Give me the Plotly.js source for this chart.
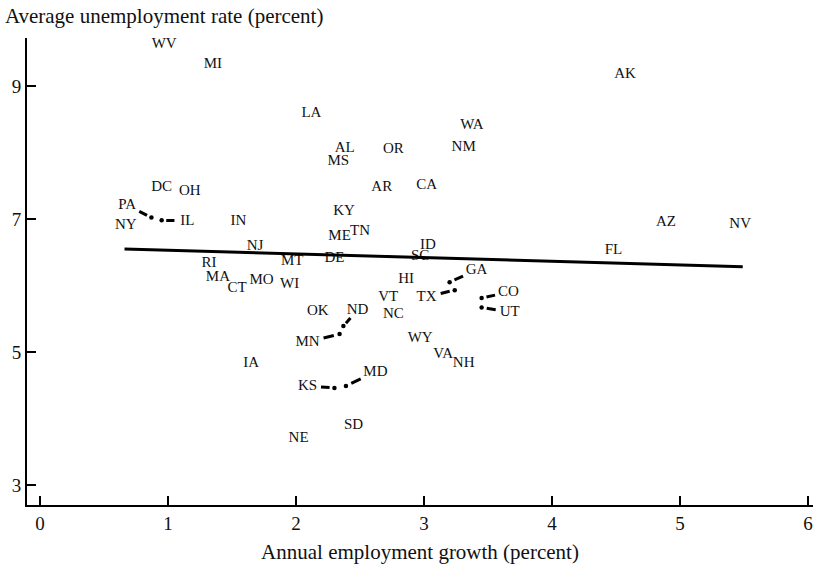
<!DOCTYPE html>
<html>
<head>
<meta charset="utf-8">
<script src="https://cdn.plot.ly/plotly-3.0.1.min.js"></script>
<style>html,body{margin:0;padding:0;background:#fff;}</style>
</head>
<body>
<div id="chart" style="width:813px;height:570px;"></div>
<script>
// State labels and their positions (employment growth %, unemployment rate %)
const states = ["WV","MI","LA","AK","WA","NM","AL","MS","OR","AR","CA","DC","OH","PA","NY","IL","IN","KY","ME","TN","NJ","ID","SC","MT","DE","FL","AZ","NV","RI","MA","CT","MO","WI","HI","GA","TX","CO","UT","VT","NC","OK","ND","MN","WY","VA","NH","IA","KS","MD","SD","NE"];
const growth = [0.97,1.35,2.12,4.57,3.375,3.31,2.38,2.33,2.76,2.67,3.02,0.95,1.17,0.68,0.67,1.15,1.55,2.375,2.34,2.5,1.68,3.03,2.97,1.97,2.30,4.48,4.89,5.47,1.32,1.39,1.54,1.73,1.95,2.86,3.41,3.02,3.66,3.67,2.72,2.76,2.17,2.48,2.09,2.97,3.15,3.31,1.65,2.09,2.62,2.45,2.02];
const unemp = [9.62,9.33,8.59,9.17,8.41,8.08,8.07,7.86,8.05,7.47,7.50,7.47,7.42,7.21,6.91,6.97,6.97,7.12,6.74,6.82,6.59,6.61,6.44,6.37,6.41,6.53,6.95,6.92,6.34,6.13,5.96,6.08,6.02,6.10,6.23,5.83,5.90,5.60,5.83,5.57,5.62,5.63,5.15,5.21,4.97,4.83,4.83,4.49,4.70,3.90,3.71];

// Labels displaced from their points: actual point positions
const ledStates = ["PA","IL","GA","TX","CO","UT","MN","ND","KS","MD"];
const ledGrowth = [0.87,0.95,3.20,3.24,3.45,3.45,2.34,2.37,2.30,2.39];
const ledUnemp  = [7.02,6.98,6.05,5.93,5.81,5.67,5.27,5.39,4.46,4.49];

// Fitted regression line endpoints
const fitGrowth = [0.66,5.49];
const fitUnemp  = [6.55,6.28];

const FONT = "Liberation Serif, Times New Roman, serif";
const traces = [];

traces.push({
  x: growth, y: unemp, text: states, mode: "text", type: "scatter",
  textposition: "middle center",
  textfont: {family: FONT, size: 15, color: "#111"},
  hoverinfo: "text", showlegend: false
});

traces.push({
  x: fitGrowth, y: fitUnemp, mode: "lines", type: "scatter",
  line: {color: "#000", width: 3}, hoverinfo: "skip", showlegend: false
});

// leader dashes
const lx = [], ly = [];
ledStates.forEach((s, i) => {
  const k = states.indexOf(s);
  const px = ledGrowth[i], py = ledUnemp[i];
  const dx = growth[k] - px, dy = unemp[k] - py;
  lx.push(px + 0.18*dx, px + 0.5*dx, null);
  ly.push(py + 0.18*dy, py + 0.5*dy, null);
});
traces.push({
  x: lx, y: ly, mode: "lines", type: "scatter",
  line: {color: "#000", width: 3}, hoverinfo: "skip", showlegend: false
});
traces.push({
  x: ledGrowth, y: ledUnemp, text: ledStates, mode: "markers", type: "scatter",
  marker: {color: "#000", size: 4.5}, hoverinfo: "text", showlegend: false
});

const layout = {
  width: 813, height: 570,
  margin: {l: 27, r: 0, t: 38, b: 65},
  paper_bgcolor: "#fff", plot_bgcolor: "#fff",
  font: {family: FONT, color: "#111"},
  title: {
    text: "Average unemployment rate (percent)",
    font: {family: FONT, size: 21, color: "#111"},
    x: 0.006, xref: "container", xanchor: "left",
    y: 1 - 16/570, yref: "container", yanchor: "middle"
  },
  xaxis: {
    range: [-0.102, 6.039],
    tickvals: [0,1,2,3,4,5,6], ticktext: ["0","1","2","3","4","5","6"],
    ticks: "inside", ticklen: 9, tickwidth: 1.5, tickcolor: "#000",
    showline: true, linecolor: "#000", linewidth: 2,
    showgrid: false, zeroline: false,
    tickfont: {family: FONT, size: 19, color: "#111"},
    title: {text: "Annual employment growth (percent)", font: {family: FONT, size: 21, color: "#111"}, standoff: 12},
    automargin: false
  },
  yaxis: {
    range: [2.70, 9.72],
    tickvals: [3,5,7,9], ticktext: ["3","5","7","9"],
    ticks: "inside", ticklen: 9, tickwidth: 1.5, tickcolor: "#000",
    showline: true, linecolor: "#000", linewidth: 2,
    showgrid: false, zeroline: false,
    tickfont: {family: FONT, size: 19, color: "#111"},
    automargin: false
  }
};

Plotly.newPlot("chart", traces, layout, {displayModeBar: false, staticPlot: true});
</script>
</body>
</html>
